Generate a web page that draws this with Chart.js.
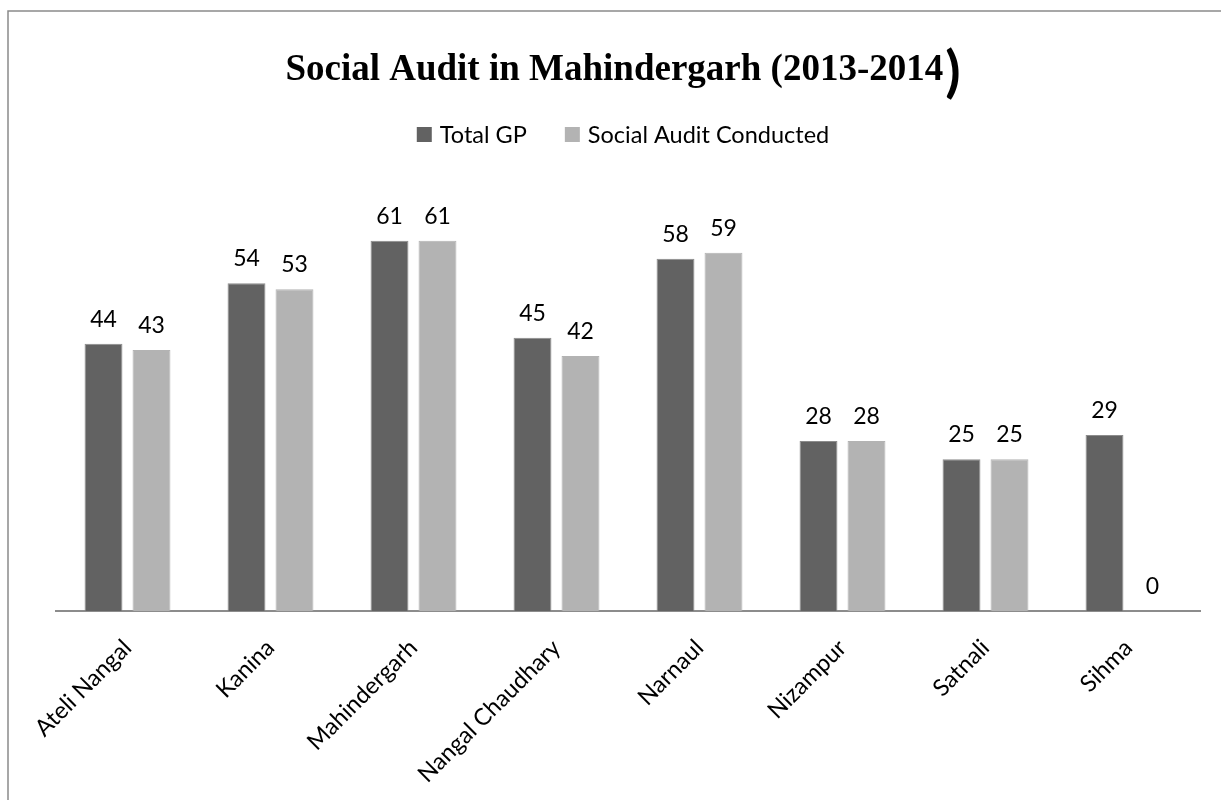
<!DOCTYPE html>
<html>
<head>
<meta charset="utf-8">
<title>Social Audit in Mahindergarh (2013-2014)</title>
<script src="https://cdn.jsdelivr.net/npm/chart.js@4.4.1/dist/chart.umd.min.js"></script>
<style>
    html, body { margin: 0; padding: 0; background: #fff; }
    #wrap { position: relative; width: 1221px; height: 800px; }
</style>
</head>
<body>
<div id="wrap"><canvas id="auditChart"></canvas></div>
<script>
// Blocks of the district
const blocks = ['Ateli Nangal', 'Kanina', 'Mahindergarh', 'Nangal Chaudhary', 'Narnaul', 'Nizampur', 'Satnali', 'Sihma'];

// Gram panchayats per block and how many held a social audit
const totalGP = [44, 54, 61, 45, 58, 28, 25, 29];
const auditConducted = [43, 53, 61, 42, 59, 28, 25, 0];

const seriesNames = ['Total GP', 'Social Audit Conducted'];
const seriesColors = ['#626262', '#b3b3b3'];

const labelFont = '23px Lato, "Open Sans", sans-serif';

// Frame around the chart (top and left edges)
const framePlugin = {
    id: 'frame',
    beforeDraw(chart) {
        const ctx = chart.ctx;
        ctx.save();
        ctx.strokeStyle = '#8a8a8a';
        ctx.lineWidth = 1.5;
        ctx.beginPath();
        ctx.moveTo(8, chart.height);
        ctx.lineTo(8, 11);
        ctx.lineTo(chart.width, 11);
        ctx.stroke();
        ctx.restore();
    }
};

// Title with the oversized closing bracket
const titlePlugin = {
    id: 'bigTitle',
    afterDraw(chart) {
        const ctx = chart.ctx;
        const main = 'Social Audit in Mahindergarh (2013-2014';
        const mainFont = 'bold 37px "Liberation Serif", "Times New Roman", serif';
        const parenFont = 'bold 56px Lato, sans-serif';
        ctx.save();
        ctx.fillStyle = '#000';
        ctx.textBaseline = 'alphabetic';
        ctx.font = mainFont;
        const w1 = ctx.measureText(main).width;
        ctx.font = parenFont;
        const w2 = ctx.measureText(')').width;
        let x = 623 - (w1 + w2 + 2) / 2;
        ctx.font = mainFont;
        ctx.textAlign = 'left';
        ctx.fillText(main, x, 80);
        ctx.font = parenFont;
        ctx.fillText(')', x + w1 + 2, 91);
        ctx.restore();
    }
};

// Legend row under the title
const legendPlugin = {
    id: 'legendRow',
    afterDraw(chart) {
        const ctx = chart.ctx;
        const box = 15, gapText = 8, gapItem = 38;
        ctx.save();
        ctx.font = '23.5px Lato, sans-serif';
        const items = chart.data.datasets.map(ds => ({
            text: ds.label,
            color: ds.backgroundColor,
            width: ctx.measureText(ds.label).width
        }));
        const total = items.reduce((s, it) => s + box + gapText + it.width, 0) + gapItem * (items.length - 1);
        let x = 623 - total / 2;
        items.forEach(it => {
            ctx.fillStyle = it.color;
            ctx.fillRect(x, 127, box, box);
            ctx.fillStyle = '#000';
            ctx.textBaseline = 'alphabetic';
            ctx.fillText(it.text, x + box + gapText, 143);
            x += box + gapText + it.width + gapItem;
        });
        ctx.restore();
    }
};

// Value labels above each bar
const valueLabels = {
    id: 'valueLabels',
    afterDatasetsDraw(chart) {
        const ctx = chart.ctx;
        ctx.save();
        ctx.font = labelFont;
        ctx.fillStyle = '#000';
        ctx.textAlign = 'center';
        ctx.textBaseline = 'alphabetic';
        chart.data.datasets.forEach((ds, i) => {
            chart.getDatasetMeta(i).data.forEach((bar, j) => {
                ctx.fillText(String(ds.data[j]), bar.x, bar.y - 17);
            });
        });
        ctx.restore();
    }
};

const ctx = document.getElementById('auditChart').getContext('2d');
new Chart(ctx, {
    type: 'bar',
    data: {
        labels: blocks,
        datasets: [
            {
                label: seriesNames[0],
                data: totalGP,
                backgroundColor: seriesColors[0],
                borderColor: '#8c8c8c',
                borderWidth: 1,
                categoryPercentage: 0.671,
                barPercentage: 0.79
            },
            {
                label: seriesNames[1],
                data: auditConducted,
                backgroundColor: seriesColors[1],
                borderColor: '#b3b3b3',
                borderWidth: 1,
                categoryPercentage: 0.671,
                barPercentage: 0.79
            }
        ]
    },
    options: {
        responsive: true,
        maintainAspectRatio: false,
        animation: false,
        layout: {
            padding: { top: 186, left: 56, right: 21, bottom: 0 }
        },
        plugins: {
            legend: { display: false },
            title: { display: false },
            tooltip: { enabled: false }
        },
        scales: {
            x: {
                grid: { display: false, drawTicks: false },
                border: { display: true, color: '#8c8c8c', width: 2 },
                ticks: {
                    color: '#000',
                    font: { family: 'Lato, "Open Sans", sans-serif', size: 23.5 },
                    minRotation: 45,
                    maxRotation: 45,
                    autoSkip: false,
                    padding: 23
                },
                afterFit(axis) {
                    axis.height = 189;
                }
            },
            y: {
                display: false,
                min: 0,
                max: 70
            }
        }
    },
    plugins: [framePlugin, titlePlugin, legendPlugin, valueLabels]
});
</script>
</body>
</html>
